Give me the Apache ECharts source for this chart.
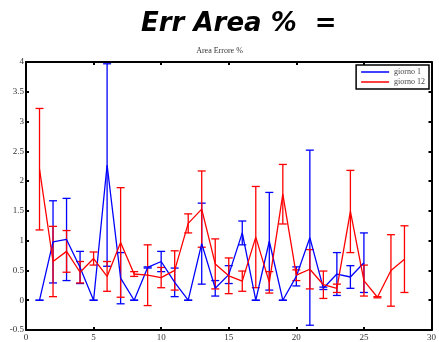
<!DOCTYPE html>
<html><head><meta charset="utf-8">
<script src="https://cdn.jsdelivr.net/npm/echarts@6/dist/echarts.min.js"></script>
<style>html,body{margin:0;padding:0;background:#fff}#c{width:439px;height:342px}</style>
</head><body><div id="c"></div>
<script>
const blueX = [1,2,3,4,5,6,7,8,9,10,11,12,13,14,15,16,17,18,19,20,21,22,23,24,25];
const blueVals = [0,0.98,1.02,0.55,0,2.27,0.37,0,0.55,0.65,0.30,0,0.95,0.20,0.43,1.13,0,0.99,0,0.40,1.05,0.20,0.44,0.39,0.63];
const blueErr  = [0,0.69,0.69,0.27,0,1.70,0.43,0,0.01,0.17,0.24,0,0.68,0.13,0.15,0.20,0,0.82,0,0.16,1.47,0.02,0.36,0.19,0.50];
const redX = [1,2,3,4,5,6,7,8,9,10,11,12,13,14,15,16,17,18,19,20,21,22,23,24,25,26,27,28];
const redVals = [2.20,0.65,0.82,0.47,0.70,0.40,0.97,0.44,0.42,0.38,0.50,1.29,1.53,0.61,0.41,0.32,1.06,0.30,1.78,0.42,0.52,0.26,0.20,1.49,0.33,0.05,0.50,0.69];
const redErr  = [1.02,0.59,0.35,0.18,0.11,0.25,0.92,0.04,0.51,0.17,0.33,0.16,0.64,0.42,0.30,0.17,0.85,0.18,0.50,0.09,0.33,0.23,0.07,0.69,0.26,0.01,0.60,0.56];
const xTicks = {min:0, max:30, interval:5};
const yTicks = {min:-0.5, max:4, interval:0.5};

function pairs(xs, vs){ return xs.map((x,i)=>[x, vs[i]]); }
function errData(xs, vs, es){ return xs.map((x,i)=>[x, vs[i]-es[i], vs[i]+es[i]]); }
function errSeries(name, xs, vs, es, color){
  return {
    type:'custom', name:name+'_err', z:3,
    renderItem:function(params, api){
      const x = api.value(0), lo = api.value(1), hi = api.value(2);
      const p1 = api.coord([x, lo]), p2 = api.coord([x, hi]);
      const w = 4;
      const st = {stroke:color, lineWidth:1.3};
      return {type:'group', children:[
        {type:'line', shape:{x1:p1[0],y1:p1[1],x2:p2[0],y2:p2[1]}, style:st},
        {type:'line', shape:{x1:p1[0]-w,y1:p1[1],x2:p1[0]+w,y2:p1[1]}, style:st},
        {type:'line', shape:{x1:p2[0]-w,y1:p2[1],x2:p2[0]+w,y2:p2[1]}, style:st}
      ]};
    },
    data: errData(xs, vs, es), encode:{x:0, y:[1,2]}, silent:true
  };
}
const lblStyle = {fontFamily:'Liberation Serif', fontSize:9, color:'#333'};
const axLine = {onZero:false, lineStyle:{color:'#000', width:2}};
const axTick = {inside:true, length:3, lineStyle:{color:'#000', width:2}};
const chart = echarts.init(document.getElementById('c'), null, {renderer:'canvas'});
chart.setOption({
  animation:false,
  backgroundColor:'#fff',
  title:[
    {text:'Err Area %  =', left:136, top:6, textStyle:{fontFamily:'DejaVu Sans', fontStyle:'italic', fontWeight:'bold', fontSize:26, color:'#000'}},
    {text:'Area Errore %', left:'center', top:47, textStyle:{fontFamily:'Liberation Serif', fontWeight:'normal', fontSize:8, color:'#333'}, padding:0}
  ],
  grid:{left:26, right:6, top:62, bottom:12, show:false},
  legend:{
    data:['giorno 1','giorno 12'], orient:'vertical', right:10, top:65, icon:'rect',
    borderColor:'#000', borderWidth:1.5, borderRadius:0, padding:[3,4,3,5], itemGap:2,
    itemWidth:28, itemHeight:1.5,
    textStyle:{fontFamily:'Liberation Serif', fontSize:8, color:'#444'}
  },
  xAxis:[
    {type:'value', min:xTicks.min, max:xTicks.max, interval:xTicks.interval, position:'bottom',
     axisLine:axLine, axisTick:axTick, axisLabel:Object.assign({margin:3}, lblStyle), splitLine:{show:false}},
    {type:'value', min:xTicks.min, max:xTicks.max, interval:xTicks.interval, position:'top',
     axisLine:axLine, axisTick:axTick, axisLabel:{show:false}, splitLine:{show:false}}
  ],
  yAxis:[
    {type:'value', min:yTicks.min, max:yTicks.max, interval:yTicks.interval, position:'left',
     axisLine:axLine, axisTick:axTick, axisLabel:Object.assign({margin:2}, lblStyle), splitLine:{show:false}},
    {type:'value', min:yTicks.min, max:yTicks.max, interval:yTicks.interval, position:'right',
     axisLine:axLine, axisTick:axTick, axisLabel:{show:false}, splitLine:{show:false}}
  ],
  series:[
    errSeries('giorno 1', blueX, blueVals, blueErr, '#0000ff'),
    errSeries('giorno 12', redX, redVals, redErr, '#ff0000'),
    {type:'line', name:'giorno 1', data:pairs(blueX, blueVals), symbol:'none', z:4,
     lineStyle:{color:'#0000ff', width:1.3}, itemStyle:{color:'#0000ff'}},
    {type:'line', name:'giorno 12', data:pairs(redX, redVals), symbol:'none', z:5,
     lineStyle:{color:'#ff0000', width:1.3}, itemStyle:{color:'#ff0000'}}
  ]
});
</script></body></html>
